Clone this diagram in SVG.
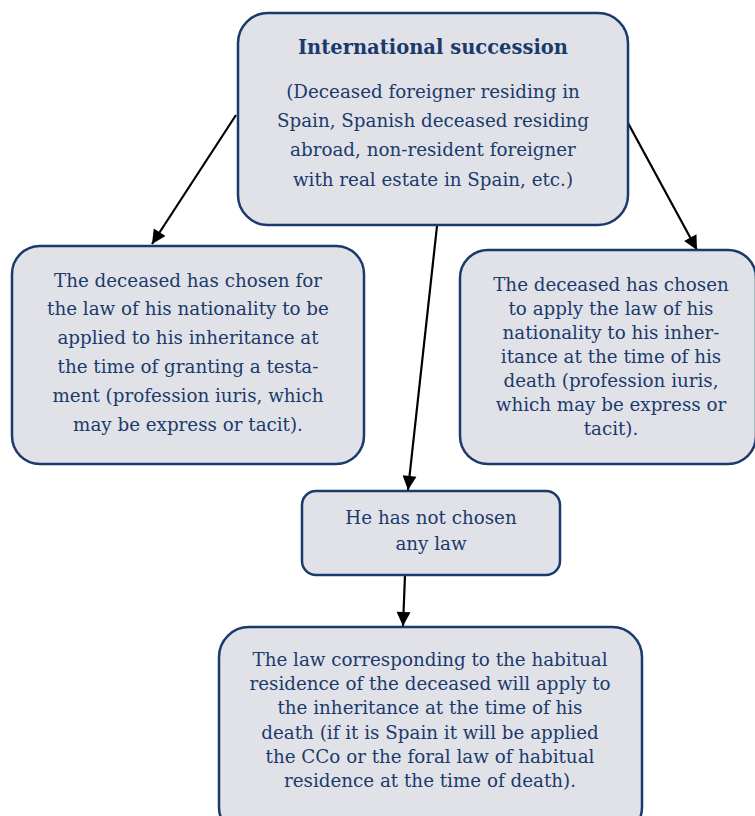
<svg xmlns="http://www.w3.org/2000/svg" width="755" height="816" viewBox="0 0 755 816">
<style>
.box{fill:#e1e2e8;stroke:#1b3a6c;stroke-width:2.5}
text{font-family:"DejaVu Serif","Liberation Serif",serif;font-size:18.3px;fill:#1b3a6c;text-anchor:middle}
.b{font-weight:bold;font-size:19.5px}
.c{stroke:#000;stroke-width:2.2;fill:none;marker-end:url(#ah)}
</style>
<defs>
<marker id="ah" viewBox="0 0 10 10" refX="10" refY="5" markerWidth="16" markerHeight="14" markerUnits="userSpaceOnUse" orient="auto">
<path d="M0,0 L10,5 L0,10 z" fill="#000"/>
</marker>
</defs>
<rect width="755" height="816" fill="#fff"/>
<g id="connectors">
<line class="c" x1="236" y1="115" x2="152" y2="244"/>
<line class="c" x1="628" y1="123" x2="697" y2="250"/>
<line class="c" x1="437" y1="226" x2="408" y2="490"/>
<line class="c" x1="405" y1="575" x2="403" y2="626"/>
</g>
<g id="n-top">
<rect class="box" x="238" y="13" width="390" height="212" rx="30"/>
<text class="b" x="433" y="54">International succession</text>
<text x="433" y="98">(Deceased foreigner residing in</text>
<text x="433" y="127">Spain, Spanish deceased residing</text>
<text x="433" y="156">abroad, non-resident foreigner</text>
<text x="433" y="186">with real estate in Spain, etc.)</text>
</g>
<g id="n-left">
<rect class="box" x="12" y="246" width="352" height="218" rx="28"/>
<text x="188" y="287">The deceased has chosen for</text>
<text x="188" y="315">the law of his nationality to be</text>
<text x="188" y="344">applied to his inheritance at</text>
<text x="188" y="373">the time of granting a testa-</text>
<text x="188" y="402">ment (profession iuris, which</text>
<text x="188" y="431">may be express or tacit).</text>
</g>
<g id="n-right">
<rect class="box" x="460" y="250" width="296" height="214" rx="28"/>
<text x="611" y="291">The deceased has chosen</text>
<text x="611" y="315">to apply the law of his</text>
<text x="611" y="339">nationality to his inher-</text>
<text x="611" y="363">itance at the time of his</text>
<text x="611" y="387">death (profession iuris,</text>
<text x="611" y="411">which may be express or</text>
<text x="611" y="435">tacit).</text>
</g>
<g id="n-mid">
<rect class="box" x="302" y="491" width="258" height="84" rx="14"/>
<text x="431" y="524">He has not chosen</text>
<text x="431" y="550">any law</text>
</g>
<g id="n-bottom">
<rect class="box" x="219" y="627" width="423" height="210" rx="30"/>
<text x="430" y="666">The law corresponding to the habitual</text>
<text x="430" y="690">residence of the deceased will apply to</text>
<text x="430" y="714">the inheritance at the time of his</text>
<text x="430" y="739">death (if it is Spain it will be applied</text>
<text x="430" y="763">the CCo or the foral law of habitual</text>
<text x="430" y="787">residence at the time of death).</text>
</g>
</svg>
